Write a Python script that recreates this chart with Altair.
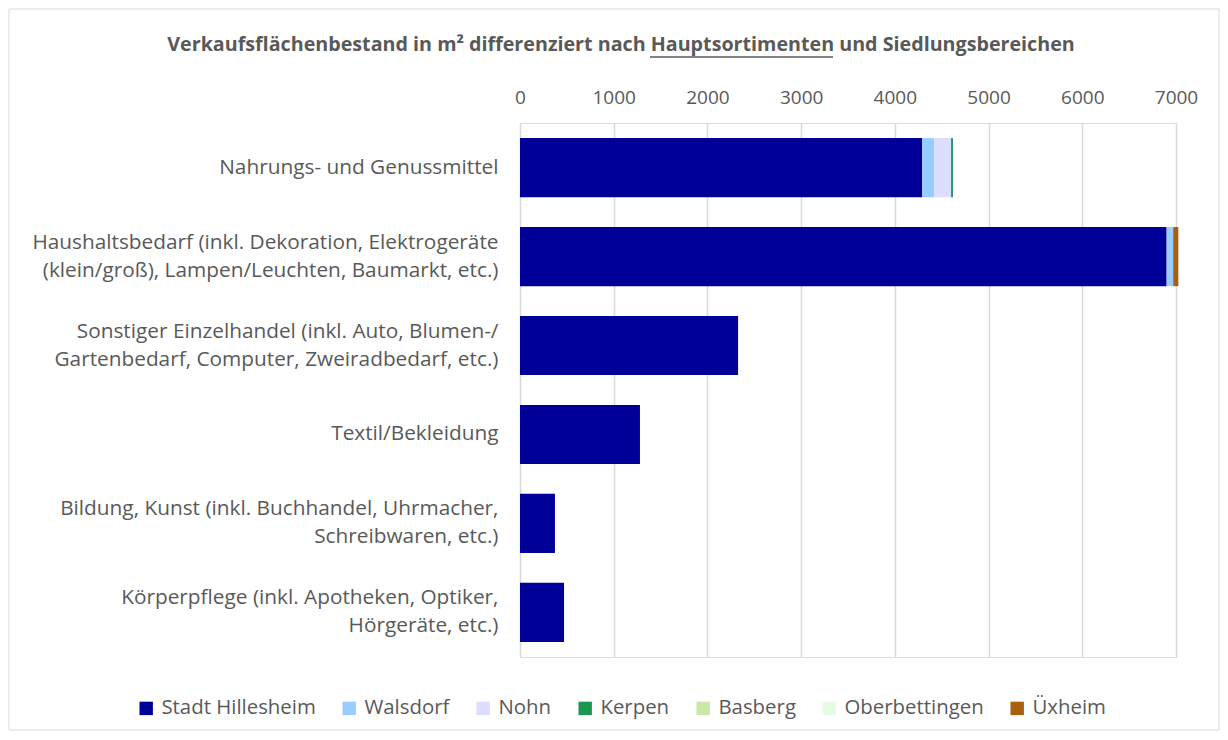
import altair as alt
import pandas as pd

categories = [
    "Nahrungs- und Genussmittel",
    "Haushaltsbedarf (inkl. Dekoration, Elektrogeräte|(klein/groß), Lampen/Leuchten, Baumarkt, etc.)",
    "Sonstiger Einzelhandel (inkl. Auto, Blumen-/|Gartenbedarf, Computer, Zweiradbedarf, etc.)",
    "Textil/Bekleidung",
    "Bildung, Kunst (inkl. Buchhandel, Uhrmacher,|Schreibwaren, etc.)",
    "Körperpflege (inkl. Apotheken, Optiker,|Hörgeräte, etc.)",
]
series = ["Stadt Hillesheim", "Walsdorf", "Nohn", "Kerpen", "Basberg", "Oberbettingen", "Üxheim"]
colors = ["#000099", "#99CCFF", "#DDDDFF", "#1A9850", "#C9E8A8", "#E3FCE3", "#A95F0B"]

stadt_hillesheim = [4290, 6900, 2327, 1280, 373, 470]
walsdorf = [130, 70, 0, 0, 0, 0]
nohn = [180, 0, 0, 0, 0, 0]
kerpen = [20, 0, 0, 0, 0, 0]
basberg = [0, 0, 0, 0, 0, 0]
oberbettingen = [0, 0, 0, 0, 0, 0]
uexheim = [0, 55, 0, 0, 0, 0]

values = [stadt_hillesheim, walsdorf, nohn, kerpen, basberg, oberbettingen, uexheim]

rows = []
for si, (s, vals) in enumerate(zip(series, values)):
    for c, v in zip(categories, vals):
        rows.append({"Kategorie": c, "Bereich": s, "Wert": v, "ord": si})
df = pd.DataFrame(rows)

title_text = "Verkaufsflächenbestand in m² differenziert nach Hauptsortimenten und Siedlungsbereichen"
GRAY = "#595959"
FONT = "Open Sans"

bars = alt.Chart(df).mark_bar().encode(
    y=alt.Y("Kategorie:N", sort=categories, title=None,
            scale=alt.Scale(paddingInner=0.335, paddingOuter=0.17),
            axis=alt.Axis(labelExpr="split(datum.label, '|')", labelFontSize=20.8,
                          labelColor=GRAY, labelFont=FONT, labelPadding=22,
                          labelOffset=alt.expr("indexof(datum.label, '|') >= 0 ? -14 : 0"),
                          ticks=False, domain=False, labelLimit=520, labelLineHeight=28)),
    x=alt.X("Wert:Q", stack="zero", title=None,
            scale=alt.Scale(domain=[0, 7000], nice=False, clamp=False),
            axis=alt.Axis(orient="top", values=list(range(0, 7001, 1000)), format="d",
                          labelFontSize=19, labelColor=GRAY, labelFont=FONT, ticks=False,
                          domain=False, labelPadding=16, gridColor="#D9D9D9", gridWidth=1.5,
                          labelFlush=False)),
    color=alt.Color("Bereich:N", sort=series,
                    scale=alt.Scale(domain=series, range=colors),
                    legend=alt.Legend(title=None, orient="none", legendX=-384, legendY=575,
                                      direction="horizontal", columns=7, symbolType="square",
                                      symbolSize=180, symbolStrokeWidth=0, labelFontSize=20.4,
                                      labelColor=GRAY, labelFont=FONT, labelOffset=5,
                                      columnPadding=23)),
    order=alt.Order("ord:Q", sort="ascending"),
)

tdf = pd.DataFrame({"t": [title_text]})
title = alt.Chart(tdf).mark_text(font=FONT, fontSize=19.7, fontWeight="bold", color=GRAY,
                                 align="center", baseline="middle").encode(
    x=alt.value(101), y=alt.value(-78), text="t:N")

underline = alt.Chart(tdf).mark_rule(color=GRAY, strokeWidth=1.5).encode(
    x=alt.value(130), x2=alt.value(313), y=alt.value(-66))

border = alt.Chart(tdf).mark_rect(fill=None, stroke="#D9D9D9", strokeWidth=1).encode(
    x=alt.value(-511), x2=alt.value(699), y=alt.value(-114), y2=alt.value(607))

chart = alt.layer(border, bars, title, underline).properties(
    width=656, height=534,
    autosize=alt.AutoSizeParams(type="none"),
    padding={"left": 512, "top": 115, "right": 44, "bottom": 74},
).configure_view(stroke=None).configure(background="white")

chart.save("out.html", embed_options={"renderer": "svg", "actions": False})
